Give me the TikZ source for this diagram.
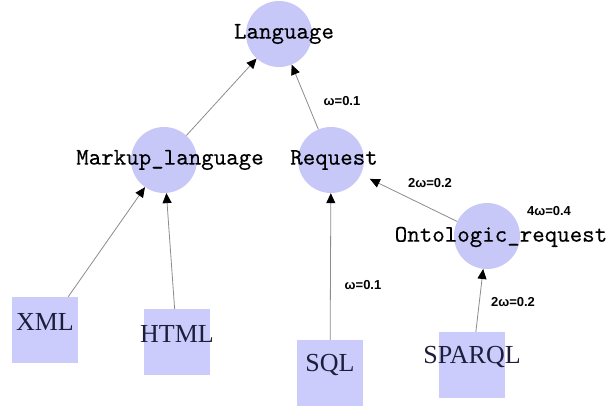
\documentclass[tikz,border=0pt]{standalone}
\usepackage{fontspec}
\usetikzlibrary{arrows.meta}
\newfontfamily\monofont[FakeBold=0.3]{lmmono10-regular.otf}
\newfontfamily\seriffont{Liberation Serif}
\newfontfamily\labfont{Liberation Sans}
\definecolor{nodefill}{RGB}{200,200,248}
\definecolor{boxfill}{RGB}{204,204,252}
\definecolor{boxtext}{RGB}{30,30,60}
\definecolor{edgegray}{RGB}{140,140,140}
\tikzset{
  conceptnode/.style={circle, fill=nodefill, draw=none, minimum size=66pt, inner sep=0pt},
  conceptlabel/.style={font=\monofont\fontsize{23.8}{24}\selectfont, text=black},
  leafnode/.style={rectangle, fill=boxfill, draw=none, minimum size=66pt, inner sep=0pt},
  leaflabel/.style={font=\seriffont\fontsize{26}{26}\selectfont, text=boxtext, yshift=8pt},
  edge/.style={draw=edgegray, line width=0.8pt, -{Triangle[length=10pt,width=9pt,black]}},
  weight/.style={font=\labfont\bfseries\fontsize{13}{13}\selectfont, text=black},
}
\begin{document}
\begin{tikzpicture}[x=1pt,y=-1pt]
\useasboundingbox (0,0) rectangle (609,410);
\fill[white] (0,0) rectangle (609,410);
% concept nodes
\node[conceptnode, label={[conceptlabel, xshift=5pt]center:Language}] (lang) at (279,34) {};
\node[conceptnode, label={[conceptlabel, xshift=6pt]center:Markup\_language}] (markup) at (164,160) {};
\node[conceptnode, label={[conceptlabel, xshift=3pt]center:Request}] (req) at (331,160) {};
\node[conceptnode, label={[conceptlabel, xshift=14pt, yshift=-1pt]center:Ontologic\_request}] (onto) at (487,236) {};
% leaf nodes
\node[leafnode, label={[leaflabel]center:XML}] (xml) at (45,330) {};
\node[leafnode, label={[leaflabel]center:HTML}] (html) at (177,342) {};
\node[leafnode, label={[leaflabel]center:SQL}] (sql) at (330,373) {};
\node[leafnode, label={[leaflabel]center:SPARQL}] (sparql) at (472,365) {};
% edges
\draw[edge] (xml) -- (markup);
\draw[edge] (html) -- (markup);
\draw[edge] (markup) -- (lang);
\draw[edge] (req) -- (lang);
\draw[edge] (sql) -- (req);
\draw[edge, shorten >=10pt] (onto) -- (req);
\draw[edge] (sparql) -- (onto);
% weights
\node[weight] (w1) at (342,101) {ω=0.1};
\node[weight] (w2) at (430,183) {2ω=0.2};
\node[weight] (w3) at (549,211) {4ω=0.4};
\node[weight] (w4) at (363,285) {ω=0.1};
\node[weight] (w5) at (513,302) {2ω=0.2};
\end{tikzpicture}
\end{document}
